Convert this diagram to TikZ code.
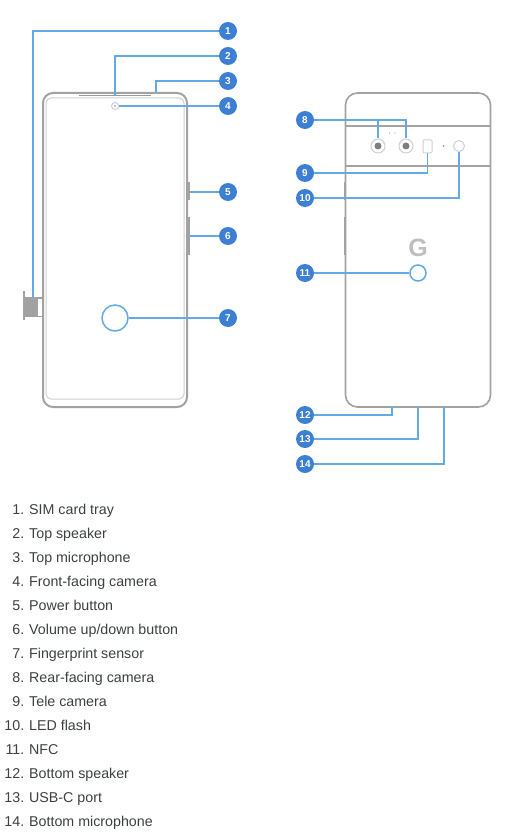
\documentclass[tikz,border=0pt]{standalone}
\usepackage{fontspec}
\setmainfont{Liberation Sans}
\usetikzlibrary{positioning,calc}
\definecolor{leadblue}{HTML}{62A9E5}
\definecolor{badgeblue}{HTML}{3D80D3}
\definecolor{bodygray}{HTML}{A2A2A2}
\definecolor{screengray}{HTML}{D0D0D0}
\definecolor{listgray}{HTML}{3C4043}
\tikzset{
  badge/.style ={circle, fill=badgeblue, text=white, inner sep=0pt, minimum size=18pt,
                 font=\fontsize{10}{10}\selectfont\bfseries},
  lead/.style  ={draw=leadblue, line width=1.4pt},
  body/.style  ={rectangle, rounded corners=10pt, draw=bodygray, line width=2pt, fill=white,
                 inner sep=0pt},
  screen/.style={rectangle, rounded corners=5pt, draw=screengray, line width=1pt, inner sep=0pt},
  key/.style   ={rectangle, fill=bodygray, inner sep=0pt},
  band/.style  ={draw=bodygray, line width=1.2pt},
  ring/.style  ={circle, draw=screengray, line width=1pt, fill=white, inner sep=0pt},
  sensor/.style={circle, draw=leadblue, line width=1.5pt, fill=white, inner sep=0pt},
  lens/.style  ={circle, fill=black!50, inner sep=0pt},
  speck/.style ={circle, fill=black!40, inner sep=0pt, minimum size=1.4pt},
  num/.style   ={anchor=base east, inner sep=0pt, text=listgray, font=\fontsize{14.25}{16}\selectfont},
  item/.style  ={anchor=base west, inner sep=0pt, text=listgray, font=\fontsize{14.25}{16}\selectfont},
}

\begin{document}
\begin{tikzpicture}[x=1pt,y=-1pt]
\useasboundingbox (0,0) rectangle (519,837);

% front of the phone
\node[key, minimum width=3pt, minimum height=18pt] (power) at (188.5,191) {};
\node[key, minimum width=3pt, minimum height=38pt] (volume) at (188.5,236) {};
\node[key, minimum width=13pt, minimum height=20pt] (simtray) at (30.5,307) {};
\node[key, minimum width=2pt, minimum height=29pt] (simlip) at (24,305.5) {};
\node[rectangle, draw=bodygray, line width=1.5pt, fill=white, inner sep=0pt,
      minimum width=6pt, minimum height=18.5pt] (simslot) at (40,307) {};
\node[body, minimum width=144pt, minimum height=314pt] (front) at (115,250) {};
\node[screen, minimum width=138pt, minimum height=301pt] (display) at (115,248.5) {};
\node[key, fill=black!40, minimum width=72pt, minimum height=1.2pt] (speaker) at (115,95.5) {};
\node[ring, minimum size=7pt] (selfie) at (115,106) {};
\node[lens, minimum size=1.8pt] (selfiedot) at (115,106) {};
\node[sensor, minimum size=26pt] (finger) at (115,318) {};

% back of the phone
\node[key, minimum width=2pt, minimum height=18pt] (backpower) at (344.5,191) {};
\node[key, minimum width=2pt, minimum height=38pt] (backvolume) at (344.5,236) {};
\node[body, rounded corners=12pt, line width=1.6pt, minimum width=145pt, minimum height=314pt] (back) at (418,250) {};
\draw[band] (back.west |- 0,126) -- (back.east |- 0,126);
\draw[band] (back.west |- 0,166) -- (back.east |- 0,166);
\node[ring, minimum size=14pt] (camA) at (378,146) {};
\node[lens, minimum size=7pt] (lensA) at (camA) {};
\node[ring, minimum size=14pt] (camB) at (406,146) {};
\node[lens, minimum size=7pt] (lensB) at (camB) {};
\node[speck] (micA) at (389.5,133) {};
\node[speck] (micB) at (395,133) {};
\node[rectangle, draw=screengray, line width=1pt, rounded corners=1pt, inner sep=0pt,
      minimum width=9pt, minimum height=13pt] (tele) at (427.5,146.5) {};
\node[speck, minimum size=2pt] (micC) at (443.5,146) {};
\node[ring, minimum size=11pt] (flash) at (459,146) {};
\node[inner sep=0pt, text=black!25, font=\fontsize{25}{25}\selectfont\bfseries] (logo) at (418,248) {G};
\node[sensor, minimum size=16pt] (nfc) at (418,273) {};

% badges
\node[badge] (b1) at (228,31) {1};
\node[badge] (b2) at (228,56) {2};
\node[badge] (b3) at (228,81) {3};
\node[badge] (b4) at (228,106) {4};
\node[badge] (b5) at (228,192) {5};
\node[badge] (b6) at (228,236) {6};
\node[badge] (b7) at (228,318) {7};
\node[badge] (b8) at (305,120) {8};
\node[badge] (b9) at (305,173) {9};
\node[badge] (b10) at (305,198) {10};
\node[badge] (b11) at (305,273) {11};
\node[badge] (b12) at (305,415) {12};
\node[badge] (b13) at (305,439) {13};
\node[badge] (b14) at (305,464) {14};

\coordinate (simtop) at (33,297);
\coordinate (topmic) at (156,92);
\coordinate (botspk) at (392,407);
\coordinate (usbc) at (418,407);
\coordinate (botmic) at (444,407);

\draw[lead] (b1) -| (simtop);
\draw[lead] (b2) -| (speaker);
\draw[lead] (b3) -| (topmic);
\draw[lead] (b4) -- (selfie);
\draw[lead] (b5) -- (b5 -| power.east);
\draw[lead] (b6) -- (volume);
\draw[lead] (b7) -- (finger);
\draw[lead] (b8) -| (camB);
\draw[lead] (camA |- b8) -- (camA);
\draw[lead] (b9) -| (tele);
\draw[lead] (b10) -| (flash);
\draw[lead] (b11) -- (nfc);
\draw[lead] (b12) -| (botspk);
\draw[lead] (b13) -| (usbc);
\draw[lead] (b14) -| (botmic);

% list under the drawings
\foreach \n/\t [evaluate=\n as \ypos using 514+24*(\n-1)] in {1/SIM card tray, 2/Top speaker,
    3/Top microphone, 4/Front-facing camera, 5/Power button, 6/{Volume up/down button},
    7/Fingerprint sensor, 8/Rear-facing camera, 9/Tele camera, 10/LED flash, 11/NFC,
    12/Bottom speaker, 13/USB-C port, 14/Bottom microphone}{
  \node[num] (num\n) at (24.5,\ypos) {\n.};
  \node[item] (item\n) at (29,\ypos) {\t};
}

\end{tikzpicture}
\end{document}
